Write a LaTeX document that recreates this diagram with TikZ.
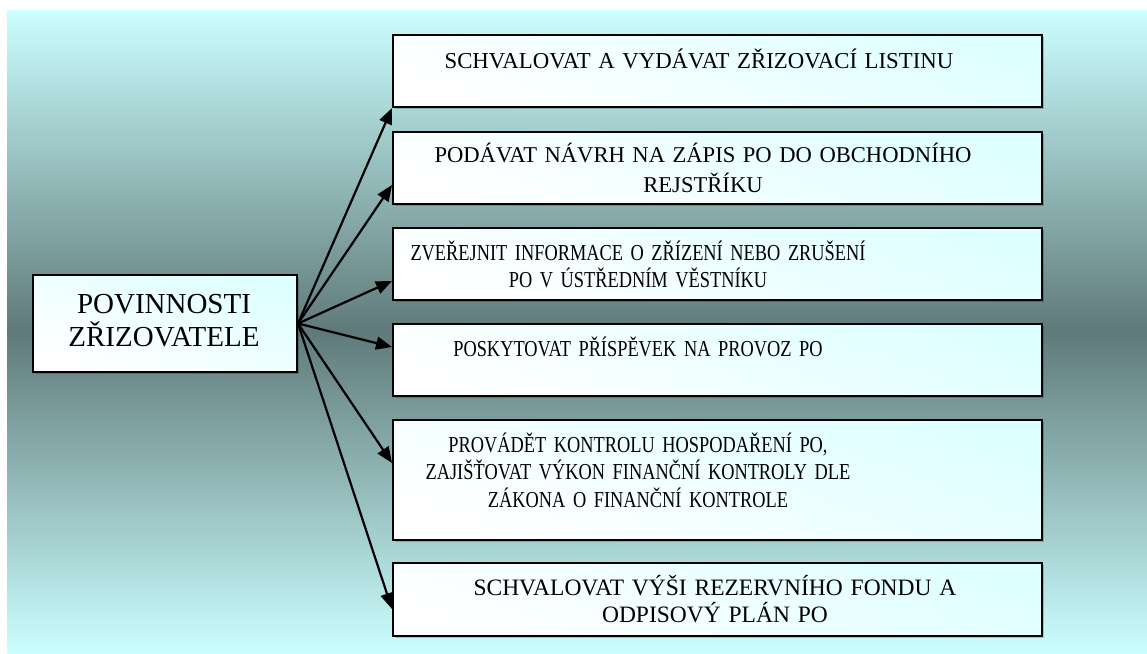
\documentclass[tikz,border=0pt]{standalone}
\usepackage{fontspec}
\setmainfont{Liberation Serif}
\newfontfamily\narrowserif[FakeStretch=0.805]{Liberation Serif}
\usetikzlibrary{arrows.meta,calc,shadows}
\definecolor{bgLight}{RGB}{204,255,255}
\definecolor{bgDark}{RGB}{96,122,122}
\definecolor{boxTint}{RGB}{222,255,255}

\begin{document}
\begin{tikzpicture}[x=1pt,y=-1pt,
  box/.style={rectangle, draw=black, line width=2pt, anchor=north west, inner sep=0pt,
    top color=boxTint, bottom color=white, shading angle=-20,
    drop shadow={shadow xshift=1.5pt, shadow yshift=-1.5pt, fill=black, opacity=0.2},
    minimum width=649pt},
  lbl/.style={anchor=base, text width=620pt, align=center, inner sep=0pt,
    font=\fontsize{22.8}{27.5}\selectfont},
  nlbl/.style={lbl, font=\narrowserif\fontsize{22.8}{27.5}\selectfont},
  arr/.style={line width=2.2pt, -{Triangle[length=16pt,width=13pt]}}]

% page and shaded backdrop
\useasboundingbox (0,0) rectangle (1147,653);
\fill[white] (0,0) rectangle (1147,653);
\shade[top color=bgLight, bottom color=bgLight, middle color=bgDark] (7,10) rectangle (1147,653);

% source box
\node[box, minimum width=264pt, minimum height=97pt] (lb) at (32,274) {};
\node[anchor=base, align=center, text width=250pt, inner sep=0pt,
  font=\fontsize{29}{33}\selectfont] (tl) at (164,313) {POVINNOSTI\\ZŘIZOVATELE};

% duty boxes
\node[box, minimum height=72pt] (b1) at (392,34) {};
\node[box, minimum height=72pt] (b2) at (392,131) {};
\node[box, minimum height=72pt] (b3) at (392,227) {};
\node[box, minimum height=72pt] (b4) at (392,323) {};
\node[box, minimum height=120pt] (b5) at (392,419) {};
\node[box, minimum height=73pt] (b6) at (392,562) {};

\node[lbl] (t1) at (699,68) {SCHVALOVAT A VYDÁVAT ZŘIZOVACÍ LISTINU};
\node[lbl, font=\fontsize{22.6}{30}\selectfont] (t2) at (703,162) {PODÁVAT NÁVRH NA ZÁPIS PO DO OBCHODNÍHO\\REJSTŘÍKU};
\node[nlbl] (t3) at (638,260) {ZVEŘEJNIT INFORMACE O ZŘÍZENÍ NEBO ZRUŠENÍ\\PO V ÚSTŘEDNÍM VĚSTNÍKU};
\node[nlbl] (t4) at (638,356) {POSKYTOVAT PŘÍSPĚVEK NA PROVOZ PO};
\node[nlbl] (t5) at (638,452) {PROVÁDĚT KONTROLU HOSPODAŘENÍ PO,\\ZAJIŠŤOVAT VÝKON FINANČNÍ KONTROLY DLE\\ZÁKONA O FINANČNÍ KONTROLE};
\node[lbl, font=\fontsize{23.5}{27}\selectfont] (t6) at (715,595) {SCHVALOVAT VÝŠI REZERVNÍHO FONDU A\\ODPISOVÝ PLÁN PO};

% connectors
\draw[arr] (lb.east) -- (b1.south west);
\draw[arr] (lb.east) -- ([yshift=20pt]b2.south west);
\draw[arr] (lb.east) -- ([yshift=20pt]b3.south west);
\draw[arr] (lb.east) -- ([yshift=-24pt]b4.north west);
\draw[arr] (lb.east) -- ([yshift=-44pt]b5.north west);
\draw[arr] (lb.east) -- ([yshift=28pt]b6.south west);
\end{tikzpicture}
\end{document}
